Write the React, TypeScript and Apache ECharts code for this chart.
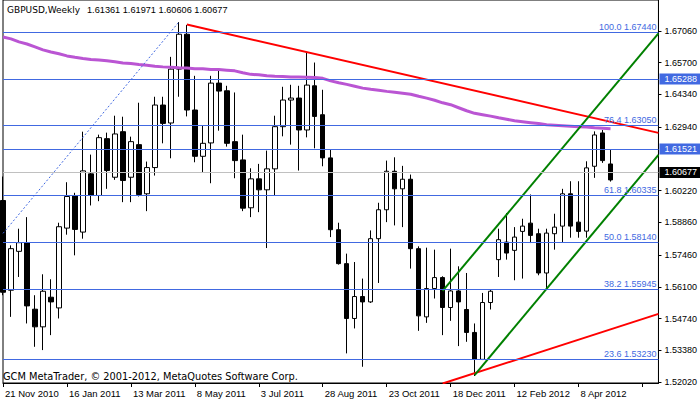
import React, { useEffect, useRef } from "react";
import * as echarts from "echarts";

// ---------- data ----------
const START_WEEK = Date.UTC(2010, 10, 21);
const MONTHS = ["Jan", "Feb", "Mar", "Apr", "May", "Jun", "Jul", "Aug", "Sep", "Oct", "Nov", "Dec"];
const BAR_COUNT = 77;
const SLOT_COUNT = 83; // bars + empty space on the right

const categories: string[] = Array.from({ length: SLOT_COUNT }, (_, i) => {
  const d = new Date(START_WEEK + i * 7 * 86400000);
  return `${d.getUTCDate()} ${MONTHS[d.getUTCMonth()]} ${d.getUTCFullYear()}`;
});

const opens = [
  1.59796, 1.55951, 1.57617, 1.57989, 1.55139, 1.54383, 1.55652, 1.55194, 1.58613, 1.6001,
  1.58442, 1.60937, 1.6001, 1.62445, 1.60792, 1.62744, 1.60792, 1.62189, 1.60083, 1.61206,
  1.63885, 1.63116, 1.65424, 1.66919, 1.63672, 1.61689, 1.62262, 1.64825, 1.64496, 1.62317,
  1.61535, 1.59484, 1.60723, 1.60253, 1.61151, 1.62958, 1.64099, 1.64184, 1.62817, 1.6471,
  1.63471, 1.61621, 1.58544, 1.57091, 1.54741, 1.55681, 1.55451, 1.5816, 1.59399, 1.61048,
  1.60296, 1.60706, 1.57732, 1.5481, 1.56023, 1.56493, 1.55211, 1.55921, 1.55126, 1.54143,
  1.5299, 1.55425, 1.57262, 1.58014, 1.5766, 1.58472, 1.58826, 1.58373, 1.5669, 1.58373,
  1.58698, 1.60083, 1.58869, 1.58484, 1.61262, 1.62689, 1.61361,
];
const highs = [
  1.60822, 1.57873, 1.58587, 1.59083, 1.55737, 1.56634, 1.56421, 1.58843, 1.60578, 1.60125,
  1.62744, 1.61762, 1.62616, 1.62702, 1.63428, 1.63385, 1.62531, 1.63984, 1.61463, 1.6424,
  1.6424, 1.65949, 1.6744, 1.67316, 1.65137, 1.63001, 1.65137, 1.65351, 1.6471, 1.64424,
  1.62616, 1.61176, 1.61364, 1.61933, 1.63428, 1.64667, 1.64753, 1.6471, 1.66133, 1.65706,
  1.64539, 1.61963, 1.58843, 1.57519, 1.5716, 1.56451, 1.58514, 1.59698, 1.61505, 1.61646,
  1.61279, 1.60907, 1.57831, 1.57775, 1.5769, 1.56549, 1.57732, 1.56976, 1.5669, 1.54528,
  1.55835, 1.55981, 1.58587, 1.59254, 1.58655, 1.59014, 1.60053, 1.58587, 1.58587, 1.59228,
  1.60296, 1.60621, 1.60621, 1.61475, 1.62757, 1.62817, 1.61971,
];
const lows = [
  1.55737, 1.5481, 1.56519, 1.54528, 1.53528, 1.53387, 1.54028, 1.54741, 1.58331, 1.57446,
  1.5816, 1.59583, 1.59766, 1.60296, 1.60681, 1.59724, 1.59724, 1.59967, 1.59339, 1.60864,
  1.62245, 1.61604, 1.6424, 1.63398, 1.61433, 1.61005, 1.60535, 1.62787, 1.62104, 1.60749,
  1.59339, 1.59083, 1.59296, 1.57758, 1.6001, 1.62544, 1.62189, 1.61078, 1.62501, 1.62031,
  1.61262, 1.58228, 1.57049, 1.53246, 1.54314, 1.52673, 1.55408, 1.56263, 1.58869, 1.58728,
  1.58655, 1.56878, 1.54212, 1.54554, 1.55596, 1.54028, 1.54639, 1.53558, 1.53742, 1.52276,
  1.5296, 1.55126, 1.56519, 1.57262, 1.56378, 1.56451, 1.57972, 1.56592, 1.55981, 1.5769,
  1.58014, 1.58202, 1.58202, 1.58202, 1.60766, 1.61407, 1.60606,
];
const closes = [
  1.55865, 1.57732, 1.57989, 1.5528, 1.54383, 1.55908, 1.55451, 1.58672, 1.59967, 1.58557,
  1.61065, 1.6001, 1.62488, 1.61078, 1.62646, 1.60651, 1.62317, 1.60053, 1.61206, 1.63885,
  1.63099, 1.65424, 1.66919, 1.63672, 1.61689, 1.62245, 1.64825, 1.64483, 1.62245, 1.61505,
  1.59467, 1.60723, 1.60253, 1.61151, 1.62958, 1.64099, 1.64184, 1.62817, 1.6474, 1.63398,
  1.61621, 1.58544, 1.57091, 1.54741, 1.55681, 1.55451, 1.5816, 1.59399, 1.61048, 1.60296,
  1.60706, 1.57732, 1.54853, 1.56023, 1.56493, 1.55211, 1.55921, 1.55451, 1.54143, 1.5299,
  1.55425, 1.55908, 1.58117, 1.57544, 1.58228, 1.58698, 1.58301, 1.5669, 1.58399, 1.58655,
  1.60083, 1.58698, 1.58472, 1.61193, 1.62603, 1.61505, 1.60677,
];

// moving average (purple)
const maValues = [
  1.668, 1.6672, 1.6659, 1.665, 1.6638, 1.6625, 1.6616, 1.6608, 1.6599, 1.6593,
  1.6588, 1.6584, 1.6581, 1.6578, 1.6574, 1.6569, 1.6566, 1.6562, 1.6559, 1.6555,
  1.6552, 1.655, 1.6548, 1.6547, 1.6544, 1.6544, 1.6541, 1.6541, 1.6538, 1.6535,
  1.6527, 1.652, 1.6518, 1.6514, 1.6512, 1.6511, 1.6509, 1.6509, 1.6508, 1.6507,
  1.6503, 1.6492, 1.6484, 1.6477, 1.6469, 1.6461, 1.6456, 1.6452, 1.6447, 1.6443,
  1.6439, 1.6435, 1.6426, 1.6418, 1.6409, 1.6398, 1.639, 1.6377, 1.6364, 1.6353,
  1.6347, 1.6341, 1.6334, 1.6328, 1.6321, 1.6317, 1.6313, 1.6309, 1.6304, 1.6302,
  1.63, 1.6298, 1.6296, 1.6294, 1.6291, 1.6289, 1.6287,
];

// trend lines: [barIndex, price]
const redTopLine = [[23, 1.67333], [82, 1.62693]];
const redBottomLine = [[55, 1.51955], [82, 1.54938]];
const greenUpperLine = [[55, 1.55921], [82, 1.66953]];
const greenLowerLine = [[59, 1.52319], [82, 1.61753]];
const fibTrendLine = [[0, 1.58386], [22, 1.6744]];

const fibLevels = [100.0, 76.4, 61.8, 50.0, 38.2, 23.6];
const fibPrices = [1.6744, 1.6305, 1.60335, 1.5814, 1.55945, 1.5323];
const hlinePrices = [1.65288, 1.61521];
const bidPrice = 1.60677;

const yTicks = [1.5202, 1.5338, 1.5474, 1.561, 1.5746, 1.5886, 1.6022, 1.6294, 1.6434, 1.657, 1.6706];

const titleSymbol = "GBPUSD,Weekly";
const titleValues = "1.61361 1.61971 1.60606 1.60677";
const footerText = "GCM MetaTrader, © 2001-2012, MetaQuotes Software Corp.";

// ---------- component ----------
const FONT = "'Liberation Sans', Arial, sans-serif";
const FONT_WIDE = "'DejaVu Sans', Verdana, sans-serif";
const BLUE = "#4169E1";

export default function App() {
  const ref = useRef<HTMLDivElement>(null);

  useEffect(() => {
    document.body.style.margin = "0";
    if (!ref.current) return;
    const chart = echarts.init(ref.current, undefined, { renderer: "svg" });

    const candleData = opens.map((o, i) => [o, closes[i], lows[i], highs[i]]);

    const markData: any[] = [];
    fibPrices.forEach((p, i) => {
      markData.push({
        yAxis: p,
        lineStyle: { color: BLUE, width: 1, type: "solid" },
        label: {
          show: true,
          position: "insideEndTop",
          formatter: `${fibLevels[i].toFixed(1)} ${p.toFixed(5)}`,
          color: BLUE,
          fontSize: 9,
          fontFamily: FONT,
          distance: [2, 1],
        },
      });
    });
    hlinePrices.forEach((p) => {
      markData.push({
        yAxis: p,
        lineStyle: { color: BLUE, width: 1, type: "solid" },
        label: {
          show: true,
          position: "end",
          formatter: p.toFixed(5),
          color: "#fff",
          backgroundColor: BLUE,
          padding: [1, 6, 1, 5],
          fontSize: 9,
          fontFamily: FONT,
          distance: 1,
        },
      });
    });
    markData.push({
      yAxis: bidPrice,
      lineStyle: { color: "#C0C0C0", width: 1, type: "solid" },
      label: {
        show: true,
        position: "end",
        formatter: bidPrice.toFixed(5),
        color: "#fff",
        backgroundColor: "#000",
        padding: [1, 6, 1, 5],
        fontSize: 9,
        fontFamily: FONT,
        distance: 1,
      },
    });

    const trend = (name: string, data: number[][], color: string, width: number, type: any = "solid") => ({
      name,
      type: "line",
      data,
      symbol: "none",
      silent: true,
      clip: true,
      lineStyle: { color, width, type },
      z: 3,
    });

    chart.setOption({
      animation: false,
      backgroundColor: "#fff",
      grid: { left: 3, right: 41, top: -1, bottom: 19, show: true, borderColor: "#000", borderWidth: 1 },
      xAxis: {
        type: "category",
        data: categories,
        boundaryGap: false,
        axisLine: { show: true, lineStyle: { color: "#000", width: 1 } },
        axisTick: { show: true, interval: 7, length: 4, lineStyle: { color: "#000" } },
        axisLabel: {
          interval: 7,
          align: "left",
          margin: 5,
          color: "#000",
          fontSize: 9.5,
          fontFamily: FONT,
          padding: [0, 0, 0, 2],
          formatter: (v: string, idx: number) => (idx < BAR_COUNT ? v : ""),
        },
        splitLine: { show: false },
      },
      yAxis: {
        type: "value",
        position: "right",
        min: 1.51977,
        max: 1.68385,
        scale: true,
        axisLine: { show: true, lineStyle: { color: "#000", width: 1 } },
        axisTick: { show: true, length: 3, customValues: yTicks, lineStyle: { color: "#000" } },
        axisLabel: {
          customValues: yTicks,
          formatter: (v: number) => v.toFixed(5),
          color: "#000",
          fontSize: 9,
          fontFamily: FONT,
          margin: 6,
        },
        splitLine: { show: false },
      },
      graphic: [
        { type: "text", left: 7, top: 5, style: { text: titleSymbol, fill: "#000", font: `9px ${FONT_WIDE}` } },
        { type: "text", left: 87, top: 5, style: { text: titleValues, fill: "#000", font: `9.2px ${FONT}` } },
        { type: "text", left: 3, top: 371, style: { text: footerText, fill: "#000", font: `9.8px ${FONT_WIDE}` } },
      ],
      series: [
        {
          name: "GBPUSD",
          type: "candlestick",
          data: candleData,
          barWidth: 5,
          clip: true,
          itemStyle: {
            color: "#fff",
            color0: "#000",
            borderColor: "#000",
            borderColor0: "#000",
            borderWidth: 1,
          },
          markLine: {
            silent: true,
            symbol: ["none", "none"],
            animation: false,
            data: markData,
          },
          z: 2,
        },
        {
          name: "MA",
          type: "line",
          data: maValues,
          symbol: "none",
          silent: true,
          lineStyle: { color: "#BA55D3", width: 3 },
          z: 3,
        },
        trend("fib", fibTrendLine, BLUE, 1, [2, 2]),
        trend("redTop", redTopLine, "#FF0000", 2),
        trend("redBottom", redBottomLine, "#FF0000", 2),
        trend("greenUpper", greenUpperLine, "#008000", 2),
        trend("greenLower", greenLowerLine, "#008000", 2),
      ],
    });

    return () => chart.dispose();
  }, []);

  return <div ref={ref} style={{ width: 700, height: 402 }} />;
}
